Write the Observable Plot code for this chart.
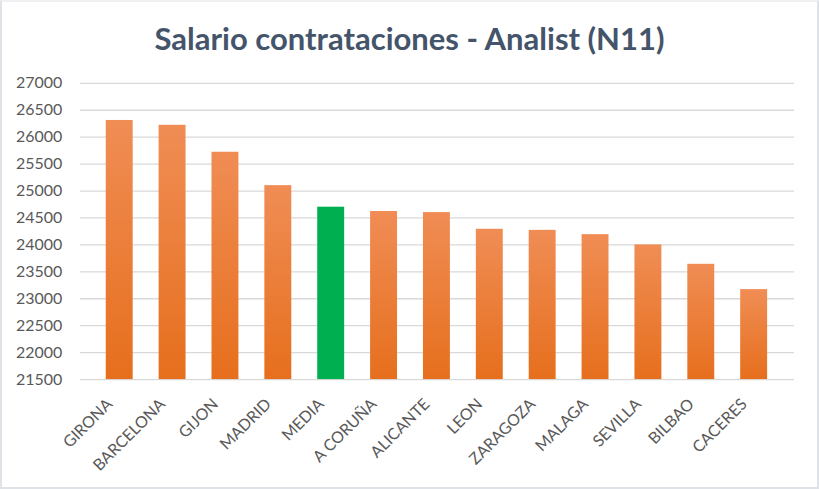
<!DOCTYPE html>
<html>
<head>
<meta charset="utf-8">
<script src="https://cdn.jsdelivr.net/npm/d3@7"></script>
<script src="https://cdn.jsdelivr.net/npm/@observablehq/plot@0.6"></script>
<style>
  html, body { margin: 0; padding: 0; background: #fff; }
  #frame {
    position: relative; width: 819px; height: 489px; box-sizing: border-box;
    border: 2px solid #dfe2e6; border-top-color: #eef0f2; background: #fff; overflow: hidden;
  }
  #title {
    position: absolute; left: 0; right: 0; top: 17px; text-align: center;
    font-family: Lato, sans-serif; font-weight: bold; font-size: 31px; color: #44546a;
  }
  #chart { position: absolute; left: -2px; top: -2px; }
</style>
</head>
<body>
<div id="frame">
  <div id="title">Salario contrataciones - Analist (N11)</div>
  <div id="chart"></div>
</div>
<script>
// Hiring salary by city, plus the overall average (MEDIA)
const cities = ["GIRONA", "BARCELONA", "GIJON", "MADRID", "MEDIA", "A CORUÑA", "ALICANTE",
                "LEON", "ZARAGOZA", "MALAGA", "SEVILLA", "BILBAO", "CACERES"];
const salaries = [26310, 26220, 25720, 25100, 24700, 24620, 24600,
                  24290, 24270, 24190, 24000, 23640, 23170];
const yTicks = [21500, 22000, 22500, 23000, 23500, 24000, 24500, 25000, 25500, 26000, 26500, 27000];
const highlighted = "MEDIA";

const rows = cities.map((city, i) => ({city, salary: salaries[i]}));

const plot = Plot.plot({
  width: 819,
  height: 489,
  marginTop: 83,
  marginBottom: 109,
  marginLeft: 80,
  marginRight: 23,
  style: {fontFamily: "Lato, sans-serif", fontSize: "15px", color: "#595959", background: "transparent"},
  x: {domain: cities, padding: 0.49, label: null},
  y: {domain: [21500, 27000], label: null},
  marks: [
    Plot.ruleY(yTicks, {stroke: "#d9d9d9", strokeWidth: 1.3}),
    Plot.barY(rows, {
      x: "city", y1: 21500, y2: "salary",
      fill: d => d.city === highlighted ? "#00b050" : "url(#barGrad)"
    }),
    Plot.axisY({ticks: yTicks, tickFormat: "d", tickSize: 0, tickPadding: 18, fontSize: 16, label: null}),
    Plot.axisX({tickSize: 0, tickPadding: 0, tickRotate: -45, dx: -10, dy: 22, fontSize: 16, label: null})
  ]
});

// Vertical orange gradient used by every city bar
const svg = d3.select(plot);
const grad = svg.insert("defs", ":first-child").append("linearGradient")
  .attr("id", "barGrad").attr("x1", 0).attr("y1", 0).attr("x2", 0).attr("y2", 1);
grad.append("stop").attr("offset", "0%").attr("stop-color", "#f08d55");
grad.append("stop").attr("offset", "100%").attr("stop-color", "#e66f1d");

document.getElementById("chart").appendChild(plot);
</script>
</body>
</html>
